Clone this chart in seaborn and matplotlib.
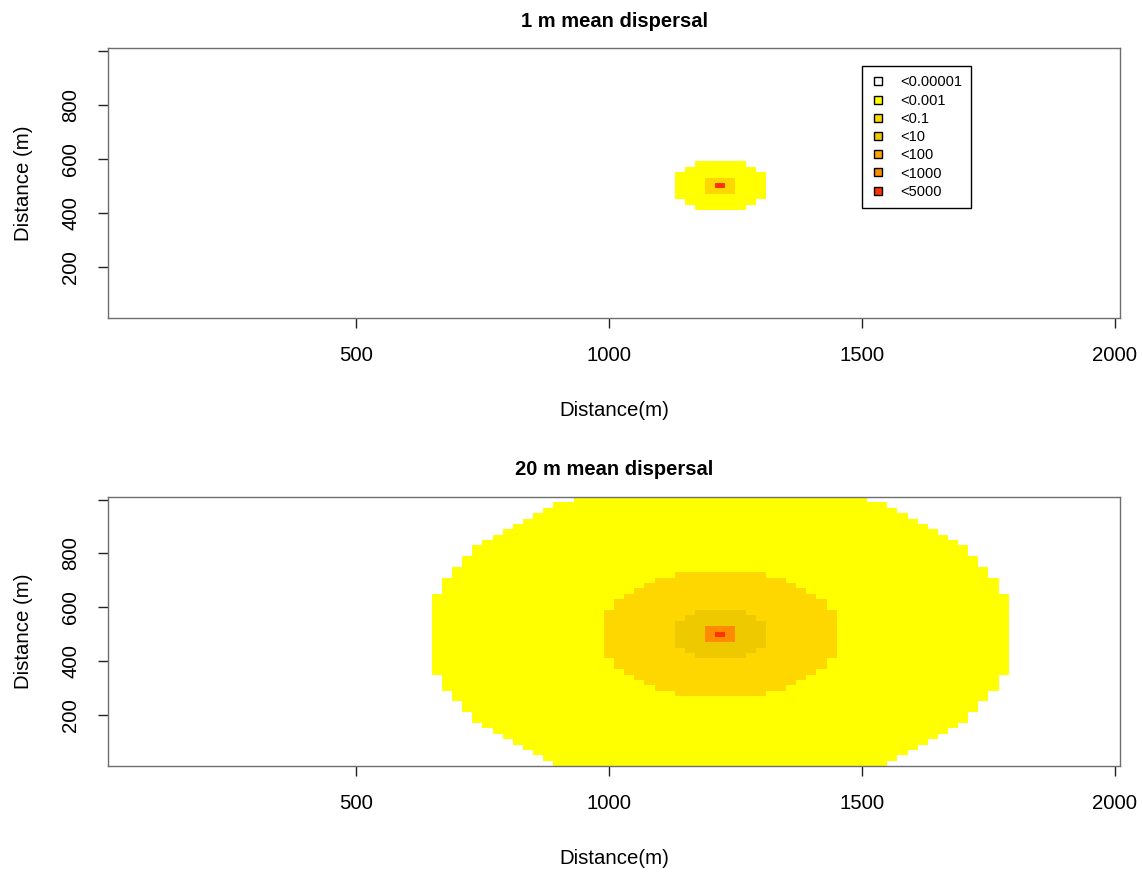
import numpy as np
import matplotlib
matplotlib.use("Agg")
import matplotlib.pyplot as plt
from matplotlib.colors import ListedColormap
from matplotlib.lines import Line2D
import seaborn as sns

# ---- value classes (legend) ----
class_labels = ["<0.00001", "<0.001", "<0.1", "<10", "<100", "<1000", "<5000"]
class_colors = ["#FFFFFF", "#FFFF00", "#FFD700", "#EEC900", "#FFA500", "#FF8C00", "#FF3300"]

# ---- landscape grid (20 m cells) ----
cell_size = 20
x_centres = np.arange(20, 2001, cell_size)   # 100 columns
y_centres = np.arange(20, 1001, cell_size)   # 50 rows
source_x, source_y = 1220, 500

# ---- class boundaries: distance (m) from the source inside which each class is reached ----
panel_titles = ["1 m mean dispersal", "20 m mean dispersal"]
short_classes = [1, 2, 6]
short_radii = [95, 34, 10]
long_classes = [1, 2, 3, 5, 6]
long_radii = [578, 237, 95, 34, 10]

x_ticks = [500, 1000, 1500, 2000]
y_ticks = [200, 400, 600, 800, 1000]
y_tick_labels = ["200", "400", "600", "800", ""]


def class_grid(classes, radii):
    dx = x_centres[None, :] - source_x
    dy = y_centres[:, None] - source_y
    dist = np.hypot(dx, dy)
    grid = np.zeros(dist.shape)
    for c, r in zip(classes, radii):
        grid[dist <= r] = c
    return grid


def to_col(xm):
    return (np.asarray(xm) - (x_centres[0] - cell_size / 2)) / cell_size


def to_row(ym):
    return (np.asarray(ym) - (y_centres[0] - cell_size / 2)) / cell_size


sns.set_style("white")
plt.rcParams["font.family"] = ["Liberation Sans", "DejaVu Sans"]
plt.rcParams["text.color"] = "black"
plt.rcParams["axes.labelcolor"] = "black"
plt.rcParams["xtick.color"] = "black"
plt.rcParams["ytick.color"] = "black"

fig = plt.figure(figsize=(11.43, 8.69), dpi=100)
ax_top = fig.add_axes([0.0945, 0.634, 0.8854, 0.3107])
ax_bot = fig.add_axes([0.0945, 0.1185, 0.8854, 0.3096])

cmap = ListedColormap(class_colors)
grids = [class_grid(short_classes, short_radii), class_grid(long_classes, long_radii)]

fs = 14.7
for ax, grid, title in zip([ax_top, ax_bot], grids, panel_titles):
    sns.heatmap(grid, ax=ax, cmap=cmap, vmin=-0.5, vmax=len(class_colors) - 0.5,
                cbar=False, linewidths=0, rasterized=True)
    ax.invert_yaxis()
    for s in ax.spines.values():
        s.set_visible(True)
        s.set_color("#6e6e6e")
        s.set_linewidth(1.0)
    ax.set_xticks(to_col(x_ticks))
    ax.set_xticklabels([str(t) for t in x_ticks], fontsize=fs, rotation=0)
    ax.set_yticks(to_row(y_ticks))
    ax.set_yticklabels(y_tick_labels, fontsize=fs, rotation=90, va="center")
    ax.tick_params(axis="both", direction="out", length=7, width=1, color="#222222",
                   bottom=True, left=True)
    ax.tick_params(axis="x", pad=13)
    ax.tick_params(axis="y", pad=13)
    ax.set_xlabel("Distance(m)", fontsize=fs, labelpad=26)
    ax.set_ylabel("Distance (m)", fontsize=fs, labelpad=20)
    ax.set_title(title, fontsize=14.5, fontweight="bold", pad=15.5)

handles = [Line2D([0], [0], marker="s", linestyle="none", markersize=6,
                  markerfacecolor=c, markeredgecolor="black", markeredgewidth=1.0)
           for c in class_colors]
leg = ax_top.legend(handles, class_labels, loc="upper left",
                    bbox_to_anchor=(0.745, 0.932), fontsize=10.5, frameon=True,
                    fancybox=False, framealpha=1, edgecolor="black",
                    labelspacing=0.29, handlelength=1.0, handletextpad=1.0,
                    borderpad=0.62, borderaxespad=0)
leg.get_frame().set_linewidth(1.0)

fig.savefig("out.png", dpi=100)
